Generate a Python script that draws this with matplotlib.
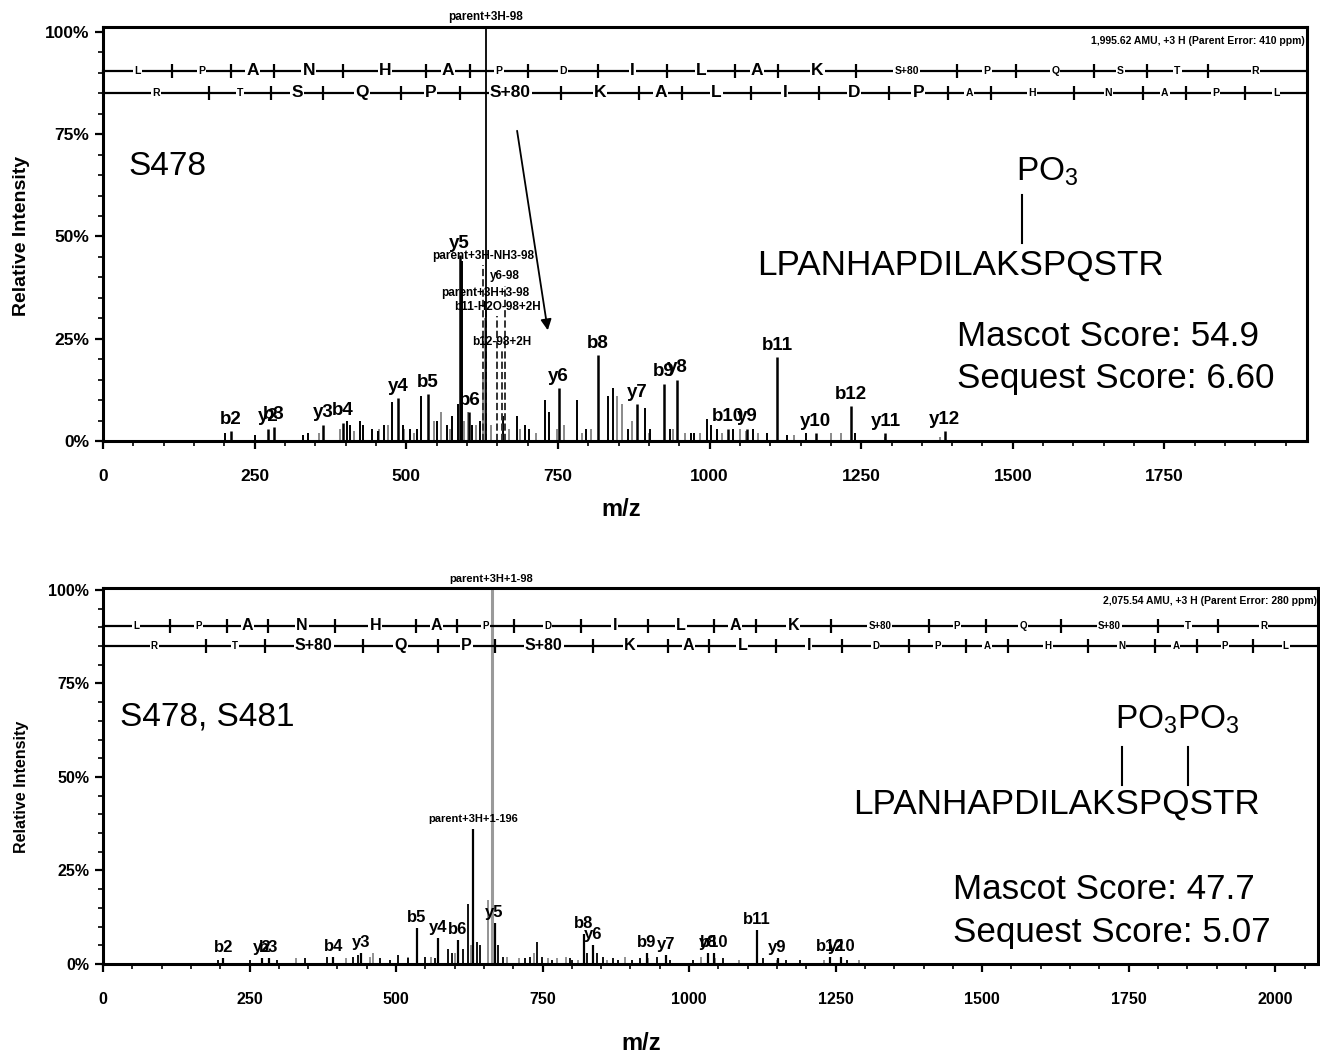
import matplotlib
matplotlib.use('Agg')
import matplotlib.pyplot as plt
from matplotlib.ticker import MultipleLocator, FuncFormatter

plt.rcParams['font.family'] = ['Liberation Sans', 'DejaVu Sans']
plt.rcParams['mathtext.fontset'] = 'custom'
plt.rcParams['mathtext.rm'] = 'Liberation Sans'
plt.rcParams['mathtext.default'] = 'regular'

# ---------------- data: panel A (S478) ----------------
top_ion_labels = ['b2', 'y2', 'b3', 'y3', 'b4', 'y4', 'b5', 'y5', 'b6', 'y6', 'b8', 'y7',
                  'b9', 'y8', 'b10', 'y9', 'b11', 'y10', 'b12', 'y11', 'y12']
top_ion_mz = [211, 272, 282, 363, 396, 486, 535, 588, 604, 751, 816, 880,
              925, 947, 1030, 1062, 1112, 1175, 1233, 1290, 1388]
top_ion_int = [2.5, 3, 3.5, 4, 4.5, 10.5, 11.5, 45.5, 7, 13, 21, 9,
               14, 15, 3, 3, 20.5, 2, 8.5, 2, 2.5]

top_parent_labels = ['parent+3H-NH3-98', 'y6-98', 'parent+3H+3-98', 'b11-H2O-98+2H', 'b12-98+2H']
top_parent_mz = [627, 662, 631, 650, 657]
top_parent_int = [43, 38, 34, 30.5, 22]

top_base_label = 'parent+3H-98'
top_base_mz = 631
top_base_int = 100

top_other_mz = [201, 250, 329, 338, 402, 407, 423, 428, 443, 453, 464, 476, 494, 506, 517,
                524, 550, 567, 576, 585, 592, 609, 621, 659, 682, 695, 703, 728, 736, 782,
                797, 832, 840, 865, 893, 901, 934, 970, 975, 995, 1003, 1013, 1038, 1071,
                1094, 1127, 1159, 1240]
top_other_int = [2, 1.5, 1.5, 2, 5, 4, 5, 4, 3, 2.5, 4, 9.5, 4, 3, 3,
                 11, 5, 4, 6, 9, 44, 4, 5, 6, 6, 4, 3, 10, 7, 10,
                 3, 11, 13, 3, 8, 3, 3, 2, 2, 5.5, 4, 3, 3, 3,
                 2, 1.5, 2, 2]
top_gray_mz = [356, 390, 413, 455, 470, 497, 512, 545, 558, 572, 595, 601, 615, 627, 630,
               640, 670, 688, 714, 748, 760, 790, 805, 848, 855, 872, 900, 940, 960, 985,
               1020, 1050, 1060, 1080, 1140, 1200, 1217, 1290, 1380]
top_gray_int = [2, 3, 2.5, 3, 4, 3, 2, 5, 7, 3, 5, 7, 4, 16, 30,
                4, 3, 3, 2, 3, 4, 2, 3, 11, 9, 5, 2, 3, 2, 2,
                2, 3, 2.5, 2, 1.5, 2, 2, 1, 1]

# ---------------- data: panel B (S478, S481) ----------------
bot_ion_labels = ['b2', 'y2', 'b3', 'b4', 'y3', 'b5', 'y4', 'b6', 'y5', 'b8', 'y6',
                  'b9', 'y7', 'y8', 'b10', 'b11', 'y9', 'b12', 'y10']
bot_ion_mz = [205, 272, 283, 393, 440, 535, 572, 605, 668, 820, 836,
              928, 960, 1032, 1042, 1115, 1151, 1240, 1260]
bot_ion_int = [1.5, 1.5, 1.5, 2, 3, 9.5, 7, 6.5, 11, 8, 5,
               3, 2.5, 3, 3, 9, 1.5, 2, 2]

bot_parent_labels = ['parent+3H+1-196']
bot_parent_mz = [631]
bot_parent_int = [36]

bot_base_label = 'parent+3H+1-98'
bot_base_mz = 663
bot_base_int = 100

bot_other_mz = [196, 251, 297, 344, 382, 426, 435, 472, 489, 503, 520, 549, 566, 588, 595,
                614, 622, 638, 643, 674, 682, 720, 728, 740, 749, 766, 797, 801, 825, 842,
                853, 870, 878, 902, 916, 945, 967, 1006, 1057, 1126, 1166, 1189, 1269]
bot_other_int = [1, 1, 1, 1.5, 2, 2, 2.5, 1.5, 1, 2.5, 1.5, 2, 1.5, 4, 3,
                 4, 16, 6, 5, 5, 2, 1.5, 2, 6, 2, 1, 1.5, 1, 3, 3,
                 2, 1.5, 1, 1, 1.5, 2, 1, 1, 1.5, 1.5, 1, 1, 1]
bot_gray_mz = [330, 415, 455, 460, 520, 560, 600, 628, 657, 690, 710, 735, 760, 775, 790,
               810, 860, 890, 930, 960, 1020, 1045, 1085, 1150, 1230, 1290]
bot_gray_int = [1.5, 1.5, 2, 3, 2, 2, 3, 5, 17, 2, 1.5, 3, 1.5, 1.5, 2,
                1, 1, 2, 1.5, 1, 2, 1.5, 1, 1, 1, 1]

# ---------------- sequence ladder ----------------
peptide = ['L', 'P', 'A', 'N', 'H', 'A', 'P', 'D', 'I', 'L', 'A', 'K', 'S', 'P', 'Q', 'S', 'T', 'R']
residue_mass = {'L': 113.084, 'P': 97.053, 'A': 71.037, 'N': 114.043, 'H': 137.059,
                'D': 115.027, 'I': 113.084, 'K': 128.095, 'S': 87.032, 'Q': 128.059,
                'T': 101.048, 'R': 156.101}
phospho_mass = 79.966
top_sites = [12]
bot_sites = [12, 15]
# 1 = matched residue (large letter), 0 = not matched (small letter)
top_b_big = [0, 0, 1, 1, 1, 1, 0, 0, 1, 1, 1, 1, 0, 0, 0, 0, 0, 0]
top_y_big = [0, 0, 1, 1, 1, 1, 1, 1, 1, 1, 1, 1, 0, 0, 0, 0, 0, 0]
bot_b_big = [0, 0, 1, 1, 1, 1, 0, 0, 1, 1, 1, 1, 0, 0, 0, 0, 0, 0]
bot_y_big = [0, 0, 1, 1, 1, 1, 1, 1, 1, 1, 0, 0, 0, 0, 0, 0, 0, 0]

top_header = '1,995.62 AMU, +3 H (Parent Error: 410 ppm)'
bot_header = '2,075.54 AMU, +3 H (Parent Error: 280 ppm)'

W, H = 1320, 1055
fig = plt.figure(figsize=(W / 100, H / 100), dpi=100)


def px_axes(l, t, r, b):
    return fig.add_axes([l / W, 1 - b / H, (r - l) / W, (b - t) / H])


def draw_ladder(ax, sites, big, yrow, ion_type, xmax, fs_big, fs_small):
    residues = list(peptide)
    masses = [residue_mass[r] + (phospho_mass if i in sites else 0) for i, r in enumerate(residues)]
    names = [('S+80' if i in sites else r) for i, r in enumerate(residues)]
    offset = 1.008
    if ion_type == 'y':
        masses = masses[::-1]
        names = names[::-1]
        offset = 19.018
    bounds = [0]
    pos = offset
    for m in masses:
        pos += m
        bounds.append(pos)
    bounds[-1] = min(bounds[-1], xmax)
    ax.plot([0, xmax], [yrow, yrow], color='black', lw=1.6, zorder=3, clip_on=False)
    ax.plot(bounds[1:-1], [yrow] * (len(bounds) - 2), ls='none', marker='|', ms=10,
            mew=1.6, color='black', zorder=3)
    for i, nm in enumerate(names):
        xc = (bounds[i] + bounds[i + 1]) / 2
        ax.text(xc, yrow, nm, ha='center', va='center', fontsize=fs_big if big[i] else fs_small,
                fontweight='bold', zorder=4,
                bbox=dict(facecolor='white', edgecolor='none', pad=0.8))


def setup_axes(ax, xmax, ytop, xticks_max, fs_tick):
    ax.set_xlim(0, xmax)
    ax.set_ylim(0, ytop)
    ax.xaxis.set_minor_locator(MultipleLocator(50))
    ax.yaxis.set_major_locator(MultipleLocator(25))
    ax.yaxis.set_minor_locator(MultipleLocator(5))
    ax.yaxis.set_major_formatter(FuncFormatter(lambda v, p: f'{int(v)}%'))
    ax.set_xticks([t for t in range(0, xticks_max + 1, 250)])
    ax.tick_params(axis='both', which='major', direction='out', length=6, width=1.6,
                   labelsize=fs_tick)
    ax.tick_params(axis='both', which='minor', direction='out', length=3.5, width=1.2)
    ax.tick_params(axis='x', which='major', pad=14)
    ax.tick_params(axis='y', which='major', pad=4)
    for lab in ax.get_xticklabels() + ax.get_yticklabels():
        lab.set_fontweight('bold')
    for sp in ax.spines.values():
        sp.set_linewidth(2.2)


# ================= TOP PANEL =================
axA = px_axes(103, 27, 1307, 441)
xmaxA = 1985
setup_axes(axA, xmaxA, 101.2, 1750, 12.5)
axA.vlines(top_gray_mz, 0, top_gray_int, color='#8a8a8a', lw=1.4, zorder=2)
axA.vlines(top_other_mz, 0, top_other_int, color='black', lw=1.4, zorder=2)
axA.vlines(top_parent_mz, 0, top_parent_int, color='#333333', lw=1.4, zorder=2, linestyles='--')
axA.vlines(top_ion_mz, 0, top_ion_int, color='black', lw=1.8, zorder=2)
axA.vlines([top_base_mz], 0, [101.2], color='black', lw=1.3, zorder=2)
for lab, m, v in zip(top_ion_labels, top_ion_mz, top_ion_int):
    axA.text(m, v + 0.8, lab, ha='center', va='bottom', fontsize=13.5, fontweight='bold', zorder=5)
for lab, m, v in zip(top_parent_labels, top_parent_mz, top_parent_int):
    axA.text(m, v + 0.8, lab, ha='center', va='bottom', fontsize=8.5, fontweight='bold', zorder=5)
axA.text(top_base_mz, 102.2, top_base_label, ha='center', va='bottom', fontsize=8.5,
         fontweight='bold', clip_on=False)
axA.text(0.998, 0.967, top_header, transform=axA.transAxes, ha='right', va='center',
         fontsize=7.5, fontweight='bold')
draw_ladder(axA, top_sites, top_b_big, 90.5, 'b', xmaxA, 12.5, 7.5)
draw_ladder(axA, top_sites, top_y_big, 85.1, 'y', xmaxA, 12.5, 7.5)
axA.annotate('', xy=(734, 26.4), xytext=(682, 76.5),
             arrowprops=dict(arrowstyle='-|>', color='black', lw=1.3, mutation_scale=16))

axA.text(0.0208, 0.662, 'S478', transform=axA.transAxes, ha='left', va='center', fontsize=24)
axA.text(0.7585, 0.650, r'PO$_3$', transform=axA.transAxes, ha='left', va='center', fontsize=24)
axA.plot([0.7633, 0.7633], [0.478, 0.594], transform=axA.transAxes, color='black', lw=1.5)
axA.text(0.543, 0.425, 'LPANHAPDILAKSPQSTR', transform=axA.transAxes, ha='left',
         va='center', fontsize=25.3)
axA.text(0.7093, 0.2536, 'Mascot Score: 54.9', transform=axA.transAxes, ha='left',
         va='center', fontsize=25.2)
axA.text(0.7093, 0.152, 'Sequest Score: 6.60', transform=axA.transAxes, ha='left',
         va='center', fontsize=25.2)

# ================= BOTTOM PANEL =================
axB = px_axes(103, 588, 1318, 964)
xmaxB = 2073
setup_axes(axB, xmaxB, 100.5, 2000, 11.5)
axB.vlines(bot_gray_mz, 0, bot_gray_int, color='#8a8a8a', lw=1.3, zorder=2)
axB.vlines(bot_other_mz, 0, bot_other_int, color='black', lw=1.3, zorder=2)
axB.vlines(bot_parent_mz, 0, bot_parent_int, color='black', lw=1.6, zorder=2)
axB.vlines(bot_ion_mz, 0, bot_ion_int, color='black', lw=1.6, zorder=2)
axB.vlines([bot_base_mz], 0, [100.5], color='#9a9a9a', lw=2.2, zorder=2)
for lab, m, v in zip(bot_ion_labels, bot_ion_mz, bot_ion_int):
    axB.text(m, v + 0.8, lab, ha='center', va='bottom', fontsize=12, fontweight='bold', zorder=5)
for lab, m, v in zip(bot_parent_labels, bot_parent_mz, bot_parent_int):
    axB.text(m, v + 1.5, lab, ha='center', va='bottom', fontsize=8, fontweight='bold', zorder=5)
axB.text(bot_base_mz, 101.5, bot_base_label, ha='center', va='bottom', fontsize=8,
         fontweight='bold', clip_on=False)
axB.text(0.999, 0.965, bot_header, transform=axB.transAxes, ha='right', va='center',
         fontsize=7.5, fontweight='bold')
draw_ladder(axB, bot_sites, bot_b_big, 90.4, 'b', xmaxB, 11.5, 7)
draw_ladder(axB, bot_sites, bot_y_big, 85.0, 'y', xmaxB, 11.5, 7)

axB.text(0.014, 0.657, 'S478, S481', transform=axB.transAxes, ha='left', va='center', fontsize=24)
axB.text(0.833, 0.649, r'PO$_3$PO$_3$', transform=axB.transAxes, ha='left', va='center', fontsize=24)
axB.plot([0.8387, 0.8387], [0.476, 0.577], transform=axB.transAxes, color='black', lw=1.5)
axB.plot([0.893, 0.893], [0.476, 0.577], transform=axB.transAxes, color='black', lw=1.5)
axB.text(0.617, 0.4255, 'LPANHAPDILAKSPQSTR', transform=axB.transAxes, ha='left',
         va='center', fontsize=25.3)
axB.text(0.6996, 0.197, 'Mascot Score: 47.7', transform=axB.transAxes, ha='left',
         va='center', fontsize=25.2)
axB.text(0.6996, 0.085, 'Sequest Score: 5.07', transform=axB.transAxes, ha='left',
         va='center', fontsize=25.2)

# axis titles
fig.text(22 / W, 1 - 236 / H, 'Relative Intensity', rotation=90, ha='center', va='center',
         fontsize=14, fontweight='bold')
fig.text(22 / W, 1 - 787 / H, 'Relative Intensity', rotation=90, ha='center', va='center',
         fontsize=11.5, fontweight='bold')
fig.text(621 / W, 1 - 510 / H, 'm/z', ha='center', va='center', fontsize=17, fontweight='bold')
fig.text(641 / W, 1 - 1043 / H, 'm/z', ha='center', va='center', fontsize=17, fontweight='bold')

fig.savefig('out.png', dpi=100, facecolor='white')
